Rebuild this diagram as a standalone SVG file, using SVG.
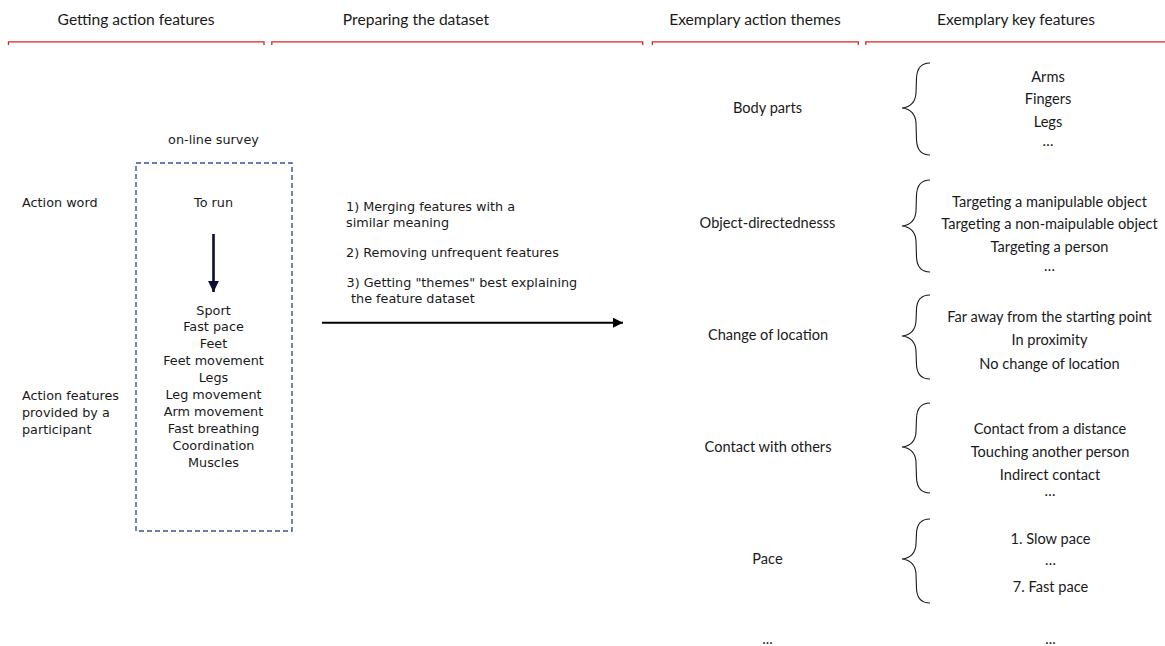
<svg xmlns="http://www.w3.org/2000/svg" width="1165" height="646" viewBox="0 0 1165 646">
<defs>
<style>
.hd{font-family:Lato,"Open Sans","DejaVu Sans",sans-serif;font-size:15.6px;fill:#1a1a1a;text-anchor:middle}
.cal{font-family:Lato,"Open Sans","DejaVu Sans",sans-serif;font-size:14.6px;fill:#1a1a1a;text-anchor:middle}
.ver{font-family:"DejaVu Sans",Verdana,sans-serif;font-size:12.8px;fill:#1a1a1a}
.mid{text-anchor:middle}
.rule{fill:none;stroke:#e31e24;stroke-width:1.3}
.brace{fill:none;stroke:#1a1a1a;stroke-width:1.1}
</style>
<marker id="ah" viewBox="0 0 10 10" refX="10" refY="5" markerWidth="7" markerHeight="5" markerUnits="strokeWidth" orient="auto"><path d="M0,0 L10,5 L0,10 z" fill="#000"/></marker>
<marker id="ahd" viewBox="0 0 10 10" refX="10" refY="5" markerWidth="4.6" markerHeight="4.2" markerUnits="strokeWidth" orient="auto"><path d="M0,0 L10,5 L0,10 z" fill="#0b0b33"/></marker>
</defs>
<rect width="1165" height="646" fill="#fff"/>

<g id="headers">
<text class="hd" x="136" y="24.5">Getting action features</text>
<text class="hd" x="416" y="24.5">Preparing the dataset</text>
<text class="hd" x="755" y="24.5">Exemplary action themes</text>
<text class="hd" x="1016" y="24.5">Exemplary key features</text>
<path class="rule" d="M8.5,45 V41.8 H264 V45"/>
<path class="rule" d="M271.8,45 V41.8 H642.7 V45"/>
<path class="rule" d="M652.3,45 V41.8 H858.3 V45"/>
<path class="rule" d="M865.8,45 V41.8 H1165"/>
</g>

<g id="labels-left">
<text class="ver" x="22" y="206.5">Action word</text>
<text class="ver" x="22" y="400.2">Action features</text>
<text class="ver" x="22" y="417">provided by a</text>
<text class="ver" x="22" y="433.8">participant</text>
</g>

<g id="survey">
<text class="ver mid" x="213.5" y="143.5">on-line survey</text>
<rect x="136" y="163" width="156" height="368" fill="none" stroke="#2f5597" stroke-width="1.4" stroke-dasharray="5,3"/>
<text class="ver mid" x="213.5" y="206.5">To run</text>
<text class="ver mid" x="213.5" y="314.5">Sport</text>
<text class="ver mid" x="213.5" y="331.4">Fast pace</text>
<text class="ver mid" x="213.5" y="348.3">Feet</text>
<text class="ver mid" x="213.5" y="365.2">Feet movement</text>
<text class="ver mid" x="213.5" y="382.1">Legs</text>
<text class="ver mid" x="213.5" y="399">Leg movement</text>
<text class="ver mid" x="213.5" y="415.9">Arm movement</text>
<text class="ver mid" x="213.5" y="432.8">Fast breathing</text>
<text class="ver mid" x="213.5" y="449.7">Coordination</text>
<text class="ver mid" x="213.5" y="466.6">Muscles</text>
</g>

<g id="steps">
<text class="ver" x="346" y="210.5">1) Merging features with a</text>
<text class="ver" x="346" y="226.8">similar meaning</text>
<text class="ver" x="346" y="256.8">2) Removing unfrequent features</text>
<text class="ver" x="346.5" y="287.2">3) Getting "themes" best explaining</text>
<text class="ver" x="351" y="302.8">the feature dataset</text>
</g>

<g id="connectors">
<line x1="213.5" y1="234" x2="213.5" y2="292" stroke="#0b0b33" stroke-width="2.6" marker-end="url(#ahd)"/>
<line x1="322" y1="322.7" x2="623" y2="322.7" stroke="#000" stroke-width="2" marker-end="url(#ah)"/>
</g>

<g id="themes">
<text class="cal" x="767.5" y="113">Body parts</text>
<text class="cal" x="767.5" y="227.5">Object-directednesss</text>
<text class="cal" x="768" y="339.5">Change of location</text>
<text class="cal" x="768" y="452">Contact with others</text>
<text class="cal" x="767.5" y="563.5">Pace</text>
<text class="cal" x="767.5" y="643.5">...</text>
</g>

<g id="braces">
<path class="brace" d="M930,63 C921,63 917,68 916.5,78 L916,93 C915.5,102 910,107 902,108 C910,109 915.5,114 916,123 L916.5,140 C917,150 921,155 930,155"/>
<path class="brace" d="M930,180 C921,180 917,185 916.5,195 L916,211 C915.5,220 910,225 902,226 C910,227 915.5,232 916,241 L916.5,257 C917,267 921,272 930,272"/>
<path class="brace" d="M930,295 C921,295 917,300 916.5,309 L916,321 C915.5,330 910,335 902,336 C910,337 915.5,342 916,351 L916.5,365 C917,374 921,379 930,379"/>
<path class="brace" d="M930,403 C921,403 917,408 916.5,418 L916,432 C915.5,441 910,446 902,447 C910,448 915.5,453 916,462 L916.5,478 C917,488 921,493 930,493"/>
<path class="brace" d="M930,519 C921,519 917,524 916.5,533 L916,544 C915.5,553 910,558 902,559 C910,560 915.5,565 916,574 L916.5,589 C917,598 921,603 930,603"/>
</g>

<g id="features">
<text class="cal" x="1048" y="82">Arms</text>
<text class="cal" x="1048" y="104">Fingers</text>
<text class="cal" x="1048" y="126.5">Legs</text>
<text class="cal" x="1048" y="146">…</text>
<text class="cal" x="1049.5" y="207">Targeting a manipulable object</text>
<text class="cal" x="1049.5" y="229">Targeting a non-maipulable object</text>
<text class="cal" x="1049.5" y="252">Targeting a person</text>
<text class="cal" x="1049.5" y="271">…</text>
<text class="cal" x="1049.5" y="322">Far away from the starting point</text>
<text class="cal" x="1049.5" y="345">In proximity</text>
<text class="cal" x="1049.5" y="368.5">No change of location</text>
<text class="cal" x="1050" y="433.5">Contact from a distance</text>
<text class="cal" x="1050" y="457">Touching another person</text>
<text class="cal" x="1050" y="480">Indirect contact</text>
<text class="cal" x="1050" y="496">…</text>
<text class="cal" x="1050.5" y="543.5">1. Slow pace</text>
<text class="cal" x="1050.5" y="565">…</text>
<text class="cal" x="1050.5" y="592">7. Fast pace</text>
<text class="cal" x="1050.5" y="643.5">...</text>
</g>
</svg>
